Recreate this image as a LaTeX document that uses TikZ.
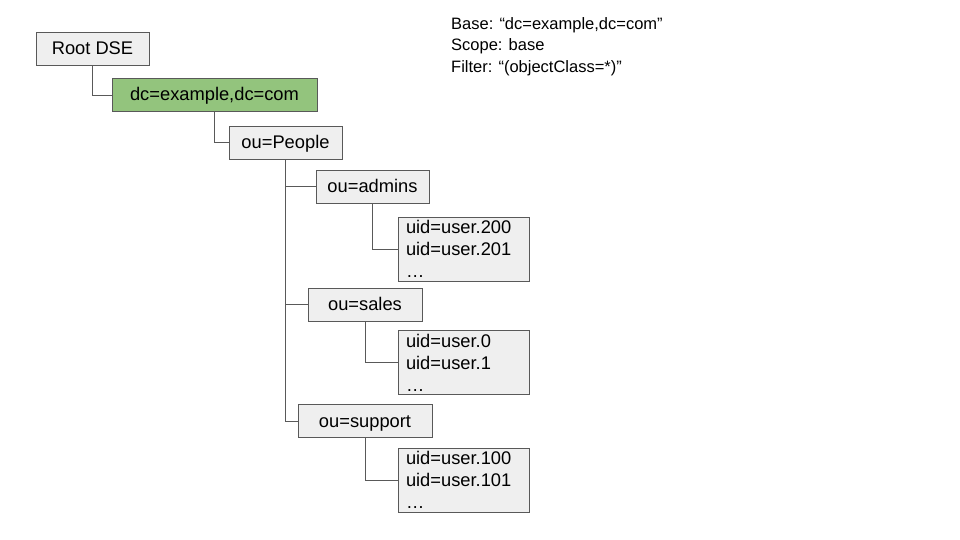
\documentclass[tikz,border=0pt]{standalone}
\usepackage{fontspec}
\setmainfont{Liberation Sans}
\definecolor{entryfill}{HTML}{EFEFEF}
\definecolor{basefill}{HTML}{93C47D}
\definecolor{treeline}{HTML}{595959}
\tikzset{
  entry/.style={draw=treeline, fill=entryfill, line width=0.9pt, inner sep=0pt,
    minimum height=33pt, font=\fontsize{18.3}{22}\selectfont},
  unit/.style={entry, text height=13pt, text depth=1pt},
  leaves/.style={entry, align=left, inner xsep=8pt, text width=115pt, minimum height=64pt},
  branch/.style={draw=treeline, line width=0.9pt}
}
\begin{document}
\begin{tikzpicture}[x=1pt, y=-1pt]
  \useasboundingbox (0,0) rectangle (960,540);
  % Search parameters
  \node[anchor=north west, align=left, inner sep=0pt, font=\fontsize{16.5}{21.5}\selectfont]
    (params) at (451,17) {Base: “dc=example,dc=com”\\Scope: base\\Filter: “(objectClass=*)”};
  % Directory entries
  \node[unit, minimum width=113pt] (rootdse) at (92.5,49) {Root DSE};
  \node[unit, fill=basefill, minimum width=205pt] (base) at (214.5,95) {dc=example,dc=com};
  \node[unit, minimum width=113pt] (people) at (285.5,142.5) {ou=People};
  \node[unit, minimum width=113pt] (admins) at (372.5,186.5) {ou=admins};
  \node[unit, minimum width=114pt] (sales) at (365,304.5) {ou=sales};
  \node[unit, minimum width=134pt] (support) at (365,421) {ou=support};
  % Users under each unit
  \node[leaves] (adminusers) at (463.5,249) {uid=user.200\\uid=user.201\\…};
  \node[leaves] (salesusers) at (463.5,362.5) {uid=user.0\\uid=user.1\\…};
  \node[leaves] (supportusers) at (463.5,480) {uid=user.100\\uid=user.101\\…};
  % Tree branches
  \draw[branch] (rootdse.south) |- (base.west);
  \draw[branch] (base.south) |- (people.west);
  \draw[branch] (people.south) |- (admins.west);
  \draw[branch] (people.south) |- (sales.west);
  \draw[branch] (people.south) |- (support.west);
  \draw[branch] (admins.south) |- (adminusers.west);
  \draw[branch] (sales.south) |- (salesusers.west);
  \draw[branch] (support.south) |- (supportusers.west);
\end{tikzpicture}
\end{document}
